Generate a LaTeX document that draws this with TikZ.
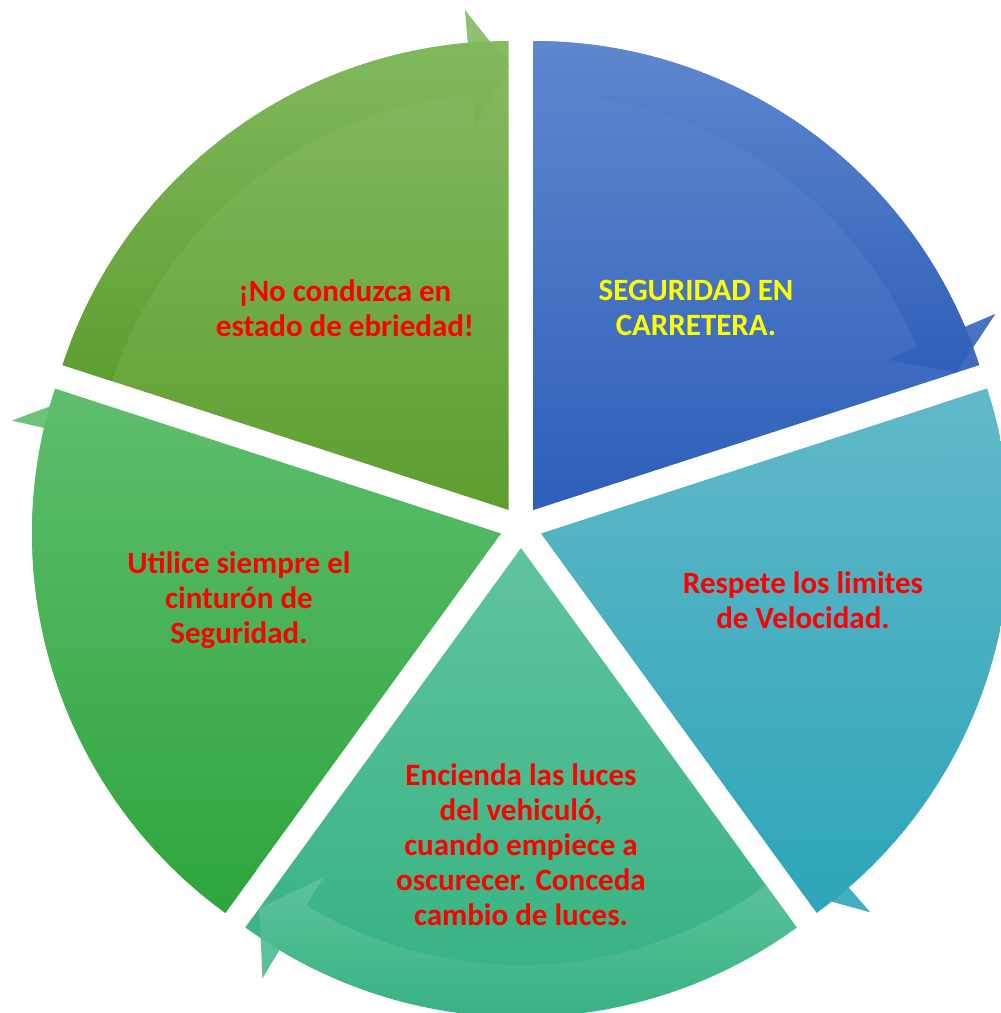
\documentclass[tikz,border=0pt]{standalone}
\usepackage{fontspec}
\setmainfont{Carlito}
\usetikzlibrary{calc}
\definecolor{gAtop}{HTML}{84BC62}\definecolor{gAbot}{HTML}{5E9E30}
\definecolor{bltop}{HTML}{5F87CD}\definecolor{blbot}{HTML}{2D5FB9}
\definecolor{tltop}{HTML}{61B9C8}\definecolor{tlbot}{HTML}{2DA5B9}
\definecolor{gBtop}{HTML}{60C49C}\definecolor{gBbot}{HTML}{30B07E}
\definecolor{gCtop}{HTML}{5FBE6E}\definecolor{gCbot}{HTML}{2DA53C}
\newcommand\drawseg[4]{%
  \pgfmathsetmacro\sa{#1+36}%
  \pgfmathsetmacro\sb{#1-36}%
  \pgfmathsetmacro\sh{#1-31}%
  \path (C) ++(#1:21pt) coordinate (#4);
  \begin{scope}[shift={(#4)}]
    \shade[top color=#2, bottom color=#3] (0,0) -- (\sa:469pt)
      arc[start angle=\sa, end angle=\sb, radius=469pt] -- cycle;
    \shade[top color=#2, bottom color=#3, fill opacity=0.9] (\sa:469pt)
      arc[start angle=\sa, end angle=\sh, radius=469pt] -- (\sh:502pt)
      -- (\sb:445pt) -- (\sh:385pt) -- (\sh:417pt)
      arc[start angle=\sh, end angle=\sa, radius=417pt] -- cycle;
  \end{scope}
}
\begin{document}
\begin{tikzpicture}[x=1pt,y=1pt,
  lbl/.style={font=\bfseries\fontsize{31}{35}\selectfont, text=red, align=center, inner sep=0pt}]
\useasboundingbox (0,0) rectangle (1001,-1013);
\clip (0,0) rectangle (1001,-1013);
\coordinate (C) at (521,-527);
\drawseg{126}{gAtop}{gAbot}{segA}
\drawseg{54}{bltop}{blbot}{segB}
\drawseg{-18}{tltop}{tlbot}{segC}
\drawseg{-90}{gBtop}{gBbot}{segD}
\drawseg{198}{gCtop}{gCbot}{segE}
\node[lbl] (t1) at (345,-308) {¡No conduzca en\\estado de ebriedad!};
\node[lbl, text={rgb,255:red,255;green,255;blue,0}] (t2) at (696,-308) {SEGURIDAD EN\\CARRETERA.};
\node[lbl] (t3) at (803,-600) {Respete los limites\\de Velocidad.};
\node[lbl] (t4) at (239,-600) {Utilice siempre el\\cinturón de\\Seguridad.};
\node[lbl] (t5) at (521,-845) {Encienda las luces\\del vehiculó,\\cuando empiece a\\oscurecer. Conceda\\cambio de luces.};
\end{tikzpicture}
\end{document}
